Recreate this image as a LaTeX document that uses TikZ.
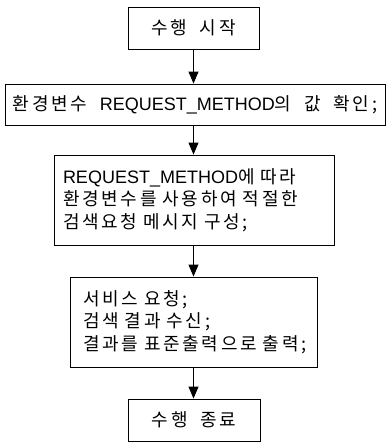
\documentclass[tikz,border=0pt]{standalone}
\usepackage{fontspec}
\setmainfont{Noto Sans CJK KR}[LetterSpace=15,WordSpace=1.9]
\newfontfamily\lat{Liberation Sans}
\usetikzlibrary{arrows.meta}
\tikzset{
  box/.style={draw, line width=0.9pt, inner sep=0pt, font=\fontsize{18}{22.5}\selectfont},
  arr/.style={line width=1.1pt, -{Triangle[width=10pt,length=12pt]}}
}
\begin{document}
\begin{tikzpicture}[x=1pt,y=-1pt]
\useasboundingbox (0,0) rectangle (386,442);
\node[box, minimum width=131pt, minimum height=42pt] (b1) at (193.5,28) {수행 시작};
\node[box, minimum width=380pt, minimum height=41pt] (b2) at (195,104.5) {환경변수 {\lat REQUEST\_METHOD}의 값 확인;};
\node[box, minimum width=280pt, minimum height=90pt, text width=262pt, inner xsep=9pt, align=left] (b3) at (194,200)
  {{\lat REQUEST\_METHOD}에 따라\\환경변수를 사용하여 적절한\\검색요청 메시지 구성;};
\node[box, minimum width=247pt, minimum height=90pt, text width=221pt, inner xsep=13pt, align=left] (b4) at (193.5,322)
  {서비스 요청;\\검색 결과 수신;\\결과를 표준출력으로 출력;};
\node[box, minimum width=132pt, minimum height=42pt] (b5) at (194,420) {수행 종료};
\draw[arr] (b1.south) -- (b2.north -| b1.south);
\draw[arr] (b2.south -| b1.south) -- (b3.north -| b1.south);
\draw[arr] (b3.south -| b1.south) -- (b4.north -| b1.south);
\draw[arr] (b4.south -| b1.south) -- (b5.north -| b1.south);
\end{tikzpicture}
\end{document}
